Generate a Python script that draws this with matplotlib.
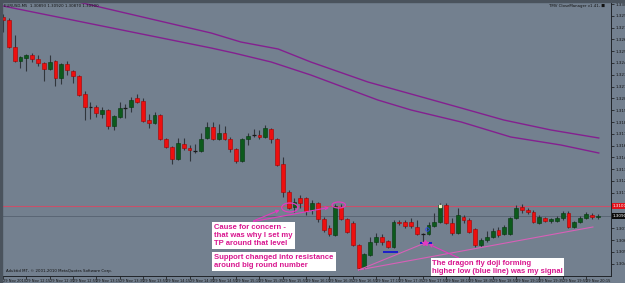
import matplotlib.pyplot as plt
from matplotlib.patches import Ellipse, Rectangle
from matplotlib.transforms import blended_transform_factory

# EURUSD M5, 29 Nov 2010 - candles
opens = [1.3289, 1.3286, 1.3259, 1.3245, 1.3248, 1.3251, 1.3247, 1.3243, 1.3237, 1.3245,
         1.3228, 1.3242, 1.3235, 1.3230, 1.3212, 1.3199, 1.3199, 1.3192, 1.3196, 1.3180,
         1.3189, 1.3198, 1.3199, 1.3208, 1.3205, 1.3186, 1.3183, 1.3191, 1.3167, 1.3159,
         1.3147, 1.3162, 1.3158, 1.3155, 1.3155, 1.3168, 1.3179, 1.3167, 1.3173, 1.3167,
         1.3157, 1.3145, 1.3167, 1.3171, 1.3171, 1.3169, 1.3177, 1.3167, 1.3142, 1.3114,
         1.3099, 1.3108, 1.3108, 1.3096, 1.3103, 1.3087, 1.3078, 1.3071, 1.3099, 1.3087,
         1.3083, 1.3061, 1.3039, 1.3051, 1.3064, 1.3069, 1.3065, 1.3059, 1.3084, 1.3084,
         1.3084, 1.3079, 1.3072, 1.3072, 1.3080, 1.3084, 1.3101, 1.3083, 1.3073, 1.3089,
         1.3086, 1.3077, 1.3061, 1.3066, 1.3069, 1.3076, 1.3072, 1.3072, 1.3088, 1.3099,
         1.3096, 1.3094, 1.3083, 1.3088, 1.3085, 1.3085, 1.3088, 1.3093, 1.3079, 1.3084,
         1.3088, 1.3091, 1.3089]
highs = [1.3292, 1.3288, 1.3271, 1.3250, 1.3252, 1.3253, 1.3251, 1.3244, 1.3251, 1.3246,
         1.3243, 1.3245, 1.3236, 1.3231, 1.3215, 1.3204, 1.3201, 1.3199, 1.3197, 1.3191,
         1.3204, 1.3202, 1.3209, 1.3212, 1.3208, 1.3192, 1.3194, 1.3192, 1.3168, 1.3160,
         1.3168, 1.3168, 1.3161, 1.3162, 1.3173, 1.3184, 1.3184, 1.3182, 1.3180, 1.3169,
         1.3158, 1.3168, 1.3173, 1.3177, 1.3176, 1.3181, 1.3178, 1.3168, 1.3149, 1.3116,
         1.3108, 1.3111, 1.3109, 1.3106, 1.3104, 1.3089, 1.3081, 1.3102, 1.3102, 1.3088,
         1.3085, 1.3062, 1.3053, 1.3069, 1.3073, 1.3072, 1.3066, 1.3086, 1.3086, 1.3086,
         1.3088, 1.3086, 1.3073, 1.3084, 1.3093, 1.3103, 1.3103, 1.3088, 1.3098, 1.3091,
         1.3088, 1.3078, 1.3068, 1.3075, 1.3078, 1.3079, 1.3081, 1.3089, 1.3101, 1.3102,
         1.3098, 1.3096, 1.3091, 1.3089, 1.3088, 1.3090, 1.3095, 1.3095, 1.3085, 1.3090,
         1.3094, 1.3093, 1.3092]
lows = [1.3274, 1.3258, 1.3244, 1.3238, 1.3235, 1.3244, 1.3240, 1.3225, 1.3236, 1.3220,
        1.3222, 1.3231, 1.3223, 1.3210, 1.3186, 1.3187, 1.3189, 1.3188, 1.3177, 1.3176,
        1.3188, 1.3188, 1.3194, 1.3203, 1.3184, 1.3178, 1.3182, 1.3166, 1.3158, 1.3142,
        1.3146, 1.3156, 1.3145, 1.3153, 1.3154, 1.3167, 1.3166, 1.3166, 1.3166, 1.3154,
        1.3143, 1.3144, 1.3161, 1.3169, 1.3167, 1.3168, 1.3163, 1.3140, 1.3109, 1.3097,
        1.3094, 1.3098, 1.3091, 1.3092, 1.3084, 1.3074, 1.3070, 1.3070, 1.3086, 1.3073,
        1.3060, 1.3036, 1.3037, 1.3050, 1.3061, 1.3061, 1.3058, 1.3058, 1.3081, 1.3078,
        1.3078, 1.3071, 1.3064, 1.3071, 1.3079, 1.3083, 1.3082, 1.3071, 1.3072, 1.3083,
        1.3073, 1.3059, 1.3059, 1.3064, 1.3068, 1.3069, 1.3071, 1.3071, 1.3087, 1.3093,
        1.3092, 1.3083, 1.3082, 1.3084, 1.3083, 1.3084, 1.3086, 1.3078, 1.3078, 1.3083,
        1.3087, 1.3087, 1.3087]
closes = [1.3286, 1.3259, 1.3245, 1.3249, 1.3251, 1.3247, 1.3243, 1.3237, 1.3244, 1.3228,
          1.3242, 1.3236, 1.3230, 1.3211, 1.3199, 1.3199, 1.3193, 1.3196, 1.3180, 1.3190,
          1.3198, 1.3198, 1.3206, 1.3204, 1.3185, 1.3183, 1.3191, 1.3167, 1.3159, 1.3147,
          1.3163, 1.3158, 1.3156, 1.3155, 1.3167, 1.3179, 1.3167, 1.3173, 1.3167, 1.3157,
          1.3145, 1.3167, 1.3170, 1.3171, 1.3169, 1.3178, 1.3167, 1.3141, 1.3114, 1.3098,
          1.3104, 1.3103, 1.3095, 1.3103, 1.3087, 1.3076, 1.3072, 1.3100, 1.3087, 1.3074,
          1.3061, 1.3038, 1.3052, 1.3064, 1.3069, 1.3064, 1.3059, 1.3084, 1.3083, 1.3080,
          1.3080, 1.3072, 1.3072, 1.3081, 1.3084, 1.3101, 1.3083, 1.3073, 1.3091, 1.3086,
          1.3074, 1.3061, 1.3066, 1.3069, 1.3075, 1.3071, 1.3079, 1.3088, 1.3098, 1.3096,
          1.3094, 1.3084, 1.3089, 1.3085, 1.3087, 1.3088, 1.3093, 1.3079, 1.3084, 1.3088,
          1.3092, 1.3089, 1.3090]

# the two moving averages (sampled along the bars)
ma_slow_x = [0, 12.9, 35.7, 40.8, 47.2, 52.8, 62.6, 70, 78.6, 85.9, 94, 102.2]
ma_slow_y = [1.3322, 1.3304, 1.3273, 1.3264, 1.3257, 1.3244, 1.3224, 1.3212, 1.3198, 1.3186, 1.3176, 1.3168]
ma_fast_x = [0, 35.7, 39.6, 46, 52.8, 64.3, 70, 78.6, 87.1, 95.7, 102.2]
ma_fast_y = [1.3300, 1.3258, 1.3253, 1.3244, 1.3231, 1.3206, 1.3196, 1.3184, 1.3169, 1.3161, 1.3153]

resistance = 1.3100
bid = 1.3090

price_ticks = [1.33020, 1.32902, 1.32784, 1.32666, 1.32548, 1.32430, 1.32312, 1.32194,
               1.32076, 1.31958, 1.31840, 1.31722, 1.31604, 1.31486, 1.31368, 1.31250,
               1.31132, 1.31014, 1.30896, 1.30778, 1.30660, 1.30542, 1.30424]
time_ticks = [0, 4, 8, 12, 16, 20, 24, 28, 32, 36, 40, 44, 48, 52, 56, 60, 64, 68, 72,
              76, 80, 84, 88, 92, 96, 100]
time_labels = ['29 Nov 2010', '29 Nov 12:15', '29 Nov 12:35', '29 Nov 12:55', '29 Nov 13:15',
               '29 Nov 13:35', '29 Nov 13:55', '29 Nov 14:15', '29 Nov 14:35', '29 Nov 14:55',
               '29 Nov 15:15', '29 Nov 15:35', '29 Nov 15:55', '29 Nov 16:15', '29 Nov 16:35',
               '29 Nov 16:55', '29 Nov 17:15', '29 Nov 17:35', '29 Nov 17:55', '29 Nov 18:15',
               '29 Nov 18:35', '29 Nov 18:55', '29 Nov 19:15', '29 Nov 19:35', '29 Nov 19:55',
               '29 Nov 20:15']

# annotation anchors (bar index, price)
circle1 = (49.2, 1.30985)
circle2 = (57.6, 1.3101)
note1_from = (42.5, 1.3084)
doji_idx = 72
trend_end = (101.2, 1.3079)
blue1 = ([65.2, 67.8], 1.3054)
blue2 = ([71.5, 73.6], 1.3063)

BG = '#73808f'
PINK = '#e23cbf'
TXT = '#d9168f'

fig = plt.figure(figsize=(6.25, 2.83), dpi=100, facecolor=BG)
ax = fig.add_axes([2 / 625, 7 / 283, 609 / 625, 274 / 283])
ax.set_facecolor(BG)
fig.patches.append(Rectangle((0, 281 / 283), 1, 2 / 283, transform=fig.transFigure,
                             color='#4a535d', zorder=0))
fig.patches.append(Rectangle((0, 0), 2 / 625, 1, transform=fig.transFigure,
                             color='#4a535d', zorder=0))

# candles
for i in range(len(opens)):
    o, h, l, c = opens[i], highs[i], lows[i], closes[i]
    ax.vlines(i, l, h, color='#30363c', lw=0.8, zorder=2)
    if c > o:
        fc, ec = '#0c5a1c', '#06360f'
    elif c < o:
        fc, ec = '#ee0f0f', '#a80000'
    else:
        ax.hlines(o, i - 0.33, i + 0.33, color='#1a1a1a', lw=0.9, zorder=3)
        continue
    ax.bar(i, c - o, bottom=o, width=0.66, color=fc, edgecolor=ec, lw=0.4, zorder=3)

ax.plot(ma_slow_x, ma_slow_y, color='#84208f', lw=1.0, zorder=1)
ax.plot(ma_fast_x, ma_fast_y, color='#84208f', lw=1.0, zorder=1)

ax.axhline(resistance, color='#c8506a', lw=0.8, zorder=1)
ax.axhline(bid, color='#566270', lw=0.6, zorder=1)

# annotations
for (cx, cy), w, h in [(circle1, 2.8, 0.0009), (circle2, 2.3, 0.0006)]:
    ax.add_patch(Ellipse((cx, cy), w, h, fill=False, ec=PINK, lw=0.9, zorder=5))
for tgt in [(47.9, 1.3097), (56.4, 1.3099)]:
    ax.annotate('', xy=tgt, xytext=note1_from,
                arrowprops=dict(arrowstyle='->', color=PINK, lw=0.8, mutation_scale=5), zorder=5)

ax.plot([61, trend_end[0]], [lows[61], trend_end[1]], color='#d860b8', lw=0.8, zorder=4)
ax.plot([61, doji_idx + 0.4], [lows[61], lows[doji_idx] - 0.0001], color='#d860b8', lw=0.8, zorder=4)
ax.annotate('', xy=(doji_idx + 0.6, lows[doji_idx] - 0.0001), xytext=(78.6, 1.3047),
            arrowprops=dict(arrowstyle='->', color=PINK, lw=0.8, mutation_scale=5), zorder=5)
ax.plot(doji_idx + 0.4, lows[doji_idx] - 0.0001, marker='*', ms=4, color=PINK, zorder=6)
ax.hlines(blue1[1], blue1[0][0], blue1[0][1], color='#1515d0', lw=1.3, zorder=5)
ax.hlines(blue2[1], blue2[0][0], blue2[0][1], color='#1515d0', lw=1.3, zorder=5)
ax.plot(72.7, 1.3077, marker='o', ms=2.5, mfc='none', mec='#3040ff', mew=0.6, zorder=6)
ax.plot(75, 1.3100, marker='s', ms=1.6, color='#f0f0c0', zorder=6)

font = dict(family=['Liberation Sans', 'DejaVu Sans'], fontweight='bold', fontsize=5.5, color=TXT)
box = dict(fc='white', ec='none', boxstyle='square,pad=0.3')
ax.text(36.2, 1.3082, 'Cause for concern -\nthat was why I set my\nTP around that level',
        ha='left', va='top', linespacing=1.2, zorder=7, bbox=box, **font)
ax.text(36.2, 1.3052, 'Support changed into resistance\naround big round number',
        ha='left', va='top', linespacing=1.2, zorder=7, bbox=box, **font)
ax.text(73.6, 1.3046, 'The dragon fly doji forming\nhigher low (blue line) was my signal',
        ha='left', va='top', linespacing=1.15, zorder=7,
        bbox=dict(fc='white', ec='none', boxstyle='square,pad=0.2'), **font)

# header texts
ax.text(0.004, 0.992, 'EURUSD,M5  1.30893 1.30920 1.30870 1.30900', transform=ax.transAxes,
        ha='left', va='top', fontsize=2.8, color='#111111')
ax.text(0.99, 0.992, 'TMV CloseManager v1.41, \u25a0', transform=ax.transAxes,
        ha='right', va='top', fontsize=2.8, color='#111111')
ax.text(0.006, 0.012, 'Aduktid MT, \u00a9 2001-2010 MetaQuotes Software Corp.', transform=ax.transAxes,
        ha='left', va='bottom', fontsize=2.8, color='#111111')

# right price labels for the lines
tr = blended_transform_factory(ax.transAxes, ax.transData)
ax.text(1.003, resistance, '%.5f' % resistance, transform=tr, ha='left', va='center',
        fontsize=3.0, color='white', clip_on=False,
        bbox=dict(fc='#e0101a', ec='none', boxstyle='square,pad=0.25'), zorder=8)
ax.text(1.003, bid, '%.5f' % bid, transform=tr, ha='left', va='center',
        fontsize=3.0, color='white', clip_on=False,
        bbox=dict(fc='#0a0a0a', ec='none', boxstyle='square,pad=0.25'), zorder=8)

ax.set_xlim(-0.17, 104.3)
ax.set_ylim(1.3030, 1.3304)

ax.yaxis.tick_right()
ax.set_yticks(price_ticks)
ax.set_yticklabels(['%.5f' % p for p in price_ticks])
ax.tick_params(axis='y', labelsize=3.0, length=2, width=0.5, pad=1, colors='#111111')
ax.set_xticks(time_ticks)
ax.set_xticklabels(time_labels, ha='left')
ax.tick_params(axis='x', labelsize=2.6, length=2, width=0.5, pad=0.5, colors='#111111')

for s in ['top', 'left']:
    ax.spines[s].set_visible(False)
for s in ['right', 'bottom']:
    ax.spines[s].set_color('#202428')
    ax.spines[s].set_linewidth(0.7)

fig.savefig('out.png', dpi=100, facecolor=BG)
